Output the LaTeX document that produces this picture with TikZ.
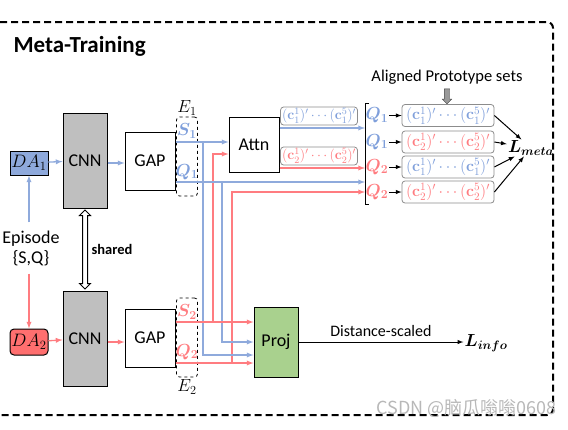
\documentclass[tikz,border=0pt]{standalone}
\usepackage{fix-cm}
\usepackage{amsmath}
\usepackage[no-math]{fontspec}
\setmainfont{Carlito}
\newfontfamily\cjkfont{Noto Sans CJK SC}
\usepackage{bm}
\usepackage{tikz}
\usetikzlibrary{arrows,shapes,shapes.arrows,positioning,calc}

\definecolor{lblue}{HTML}{8FAADC}
\definecolor{tblue}{HTML}{7F9FDB}
\definecolor{lred}{HTML}{FF7C80}
\definecolor{dablue}{HTML}{8EA9DB}
\definecolor{dared}{HTML}{FF6F6F}
\definecolor{projgreen}{HTML}{A9D18E}
\definecolor{cnngray}{HTML}{BFBFBF}

\begin{document}
\begin{tikzpicture}[x=1pt,y=-1pt,>=latex,font=\fontsize{18}{20}\selectfont]

  \tikzstyle{box}=[draw,line width=1pt,inner sep=0pt]
  \tikzstyle{cnn}=[box,fill=cnngray,minimum width=44pt,minimum height=95pt]
  \tikzstyle{gap}=[box,fill=white,minimum width=50pt,minimum height=58pt]
  \tikzstyle{da}=[box,minimum width=38pt,minimum height=24pt,font=\fontsize{18}{18}\selectfont]
  \tikzstyle{emb}=[draw,dashed,line width=0.8pt,rounded corners=3pt,
                   minimum width=21pt,minimum height=79pt,inner sep=0pt]
  \tikzstyle{proto}=[draw=black!45,line width=0.8pt,rounded corners=3pt,fill=white,inner sep=1.5pt]
  \tikzstyle{lab}=[font=\fontsize{17.5}{18}\selectfont,inner sep=1pt]
  \tikzstyle{bl}=[lblue,line width=1.3pt]
  \tikzstyle{rd}=[lred,line width=1.3pt]

  \useasboundingbox (0,0) rectangle (568,429);
  \draw[line width=2pt,dash pattern=on 7pt off 4pt,rounded corners=6pt]
    (-10,22) rectangle (553,415);

  \node[anchor=west,font=\fontsize{23}{24}\selectfont\bfseries] (title) at (10,46) {Meta-Training};

  % upper branch
  \node[da,fill=dablue]           (da1)  at (29,163)    {$DA_1$};
  \node[cnn]                      (cnn1) at (85,160.5)  {CNN};
  \node[gap]                      (gap1) at (150,161)   {GAP};
  \node[emb]                      (e1)   at (187,156.5) {};
  \node[lab] (e1lab) [above=0pt of e1]                  {$E_1$};
  \node[lab,text=tblue]           (s1)   at (187,131)   {$\bm{S_1}$};
  \node[lab,text=tblue]           (q1)   at (187,172)   {$\bm{Q_1}$};

  % lower branch
  \node[da,fill=dared,rounded corners=4pt,minimum height=26pt] (da2) at (29,342) {$DA_2$};
  \node[cnn]                      (cnn2) at (85,338.5)  {CNN};
  \node[gap]                      (gap2) at (150,338)   {GAP};
  \node[emb]                      (e2)   at (187,337.5) {};
  \node[lab] (e2lab) [below=1pt of e2]                  {$E_2$};
  \node[lab,text=lred]            (s2)   at (187,312)   {$\bm{S_2}$};
  \node[lab,text=lred]            (q2)   at (187,352)   {$\bm{Q_2}$};

  \node[align=center,inner xsep=0pt,inner ysep=8pt] (ep) at (31,248) {Episode\\\{S,Q\}};
  \node[double arrow,draw,line width=1pt,fill=white,rotate=90,minimum height=79pt,
        double arrow head extend=3pt,inner sep=2pt] (shared) at (85,249.5) {};
  \node[anchor=west,font=\fontsize{14.5}{15}\selectfont\bfseries] (sharedlab) at (88,249) {shared};

  \node[box,minimum width=50pt,minimum height=55pt]                 (attn) at (254,144.5) {Attn};
  \node[box,fill=projgreen,minimum width=44pt,minimum height=70pt]  (proj) at (276,342)   {Proj};

  \node[proto,text=tblue,font=\fontsize{14}{14}\selectfont] (pa1) at (319,116)
    {$(\mathbf{c}_1^1)'\cdots(\mathbf{c}_1^5)'$};
  \node[proto,text=lred,font=\fontsize{14}{14}\selectfont]  (pa2) at (319,156)
    {$(\mathbf{c}_2^1)'\cdots(\mathbf{c}_2^5)'$};

  % levels of the feature lines
  \coordinate (ys1) at (0,142);
  \coordinate (yq1) at (0,182);
  \coordinate (ys2) at (0,322);
  \coordinate (yq2) at (0,363);
  \coordinate (ya1) at (0,128);
  \coordinate (ya2) at (0,168);
  \coordinate (yas2) at (0,154);
  \coordinate (yaq2) at (0,192);
  \coordinate (yps1) at (0,355);
  \coordinate (ypq1) at (0,342);
  \coordinate (j1) at (203,142);
  \coordinate (j2) at (222,182);
  \coordinate (j3) at (213,322);
  \coordinate (j4) at (232,363);
  \coordinate (brt) at (365,103);
  \coordinate (brb) at (365,204);

  \draw[bl,->] (da1.south |- ep.north) -- (da1.south);
  \draw[rd,->] (da2.north |- ep.south) -- (da2.north);
  \draw[bl,->] (da1) -- (cnn1);
  \draw[bl,->] (cnn1.east |- da1) -- (gap1.west |- da1);
  \draw[rd,->] (da2) -- (cnn2);
  \draw[rd,->] (cnn2.east |- da2) -- (gap2.west |- da2);

  \draw[rd,->] (j3) -- (j3 |- yas2) -- (attn.west |- yas2);
  \draw[rd,->] (j4) -- (j4 |- yaq2) -- (brt |- yaq2);
  \draw[bl,->] (j1) -- (j1 |- yps1) -- (proj.west |- yps1);
  \draw[bl,->] (j2) -- (j2 |- ypq1) -- (proj.west |- ypq1);
  \draw[bl,->] (gap1.east |- ys1) -- (attn.west |- ys1);
  \draw[bl,->] (gap1.east |- yq1) -- (brt |- yq1);
  \draw[rd,->] (gap2.east |- ys2) -- (proj.west |- ys2);
  \draw[rd,->] (gap2.east |- yq2) -- (proj.west |- yq2);
  \draw[bl,->] (attn.east |- ya1) -- (brt |- ya1);
  \draw[rd,->] (attn.east |- ya2) -- (brt |- ya2);

  \draw[line width=1pt] ([xshift=4pt]brt) -- (brt) -- (brb) -- ([xshift=4pt]brb);

  % aligned prototype sets
  \node[font=\fontsize{16.5}{17}\selectfont] (aps) at (447,77) {Aligned Prototype sets};
  \node[single arrow,draw=black!75,fill=black!40,rotate=-90,minimum height=15pt,
        single arrow head extend=2pt,inner sep=2.5pt] (apsarr) at (447,95) {};
  \node[inner sep=1pt] (lmeta) at (531,148) {\fontsize{17.5}{18}\selectfont$\bm{L_{meta}}$};

  \foreach \i/\y/\qc/\q/\pc/\p in {1/115.5/tblue/1/tblue/1, 2/142/tblue/1/lred/2,
                                   3/167/lred/2/tblue/1, 4/192/lred/2/lred/2} {
    \node[lab,text=\qc] (q\i) at (377,\y) {$\bm{Q_\q}$};
    \node[proto,text=\pc,minimum width=92pt,minimum height=22pt,font=\fontsize{16}{16}\selectfont]
      (p\i) at (448,\y) {$(\mathbf{c}_\p^1)'\cdots(\mathbf{c}_\p^5)'$};
    \draw[->,line width=1pt] (q\i) -- (p\i);
    \draw[->,line width=1pt] (p\i.east) -- (lmeta);
  }

  \node[inner sep=1pt] (linfo) at (486,343) {\fontsize{17.5}{18}\selectfont$\bm{L_{info}}$};
  \draw[->,line width=1pt] (proj.east) -- (proj.east -| linfo.west)
    node[midway,above=2pt,font=\fontsize{16}{17}\selectfont] {Distance-scaled};

  \node[anchor=east,text=black!28,font=\cjkfont\fontsize{18}{18}\selectfont] (wm) at (560,408)
    {CSDN @脑瓜嗡嗡0608};
\end{tikzpicture}
\end{document}
